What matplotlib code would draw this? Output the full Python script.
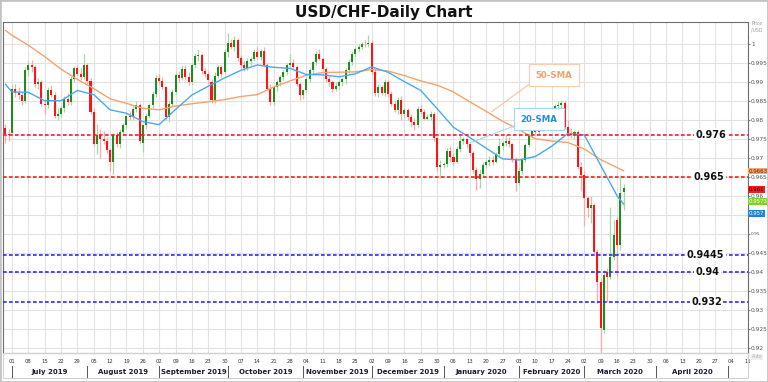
import matplotlib
matplotlib.use('Agg')
import matplotlib.pyplot as plt
import matplotlib.transforms as mtransforms
from matplotlib.patches import Rectangle
import numpy as np
import pandas as pd

# USD/CHF daily candles, 27 Jun 2019 - 18 Mar 2020
opens = [0.9778, 0.9763,
         0.9765, 0.9880, 0.9870, 0.9866, 0.9848,
         0.9932, 0.9943, 0.9940, 0.9893, 0.9898,
         0.9842, 0.9838, 0.9877, 0.9866, 0.9811,
         0.9815, 0.9830, 0.9855, 0.9846, 0.9908,
         0.9936, 0.9920, 0.9912, 0.9943, 0.9903,
         0.9820, 0.9737, 0.9759, 0.9750, 0.9745,
         0.9719, 0.9689, 0.9759, 0.9735, 0.9768,
         0.9785, 0.9811, 0.9808, 0.9829, 0.9838,
         0.9740, 0.9785, 0.9811, 0.9838, 0.9868,
         0.9910, 0.9903, 0.9885, 0.9807, 0.9842,
         0.9873, 0.9917, 0.9910, 0.9933, 0.9913,
         0.9899, 0.9943, 0.9968, 0.9971, 0.9928,
         0.9920, 0.9900, 0.9852, 0.9915, 0.9938,
         0.9925, 0.9978, 1.0003, 0.9992, 1.0010,
         0.9962, 0.9943, 0.9935, 0.9955, 0.9960,
         0.9978, 0.9965, 0.9980, 0.9945, 0.9882,
         0.9847, 0.9885, 0.9899, 0.9912, 0.9925,
         0.9945, 0.9950, 0.9940, 0.9895, 0.9864,
         0.9877, 0.9908, 0.9930, 0.9952, 0.9974,
         0.9960, 0.9934, 0.9908, 0.9899, 0.9882,
         0.9890, 0.9899, 0.9908, 0.9930, 0.9952,
         0.9974, 0.9987, 0.9991, 1.0000, 0.9998,
         1.0003, 0.9925, 0.9870, 0.9886, 0.9870,
         0.9898, 0.9868, 0.9842, 0.9826, 0.9851,
         0.9816, 0.9825, 0.9807, 0.9794, 0.9785,
         0.9829, 0.9821, 0.9803, 0.9808, 0.9816,
         0.9751, 0.9676, 0.9680, 0.9683, 0.9718,
         0.9702, 0.9690, 0.9722, 0.9743, 0.9748,
         0.9735, 0.9712, 0.9667, 0.9645, 0.9656,
         0.9682, 0.9688, 0.9695, 0.9690, 0.9710,
         0.9732, 0.9738, 0.9745, 0.9737, 0.9697,
         0.9634, 0.9665, 0.9694, 0.9733, 0.9760,
         0.9778, 0.9768, 0.9782, 0.9778, 0.9795,
         0.9805, 0.9824, 0.9836, 0.9840, 0.9843,
         0.9782, 0.9765, 0.9760, 0.9768, 0.9676,
         0.9654, 0.9593, 0.9567, 0.9576, 0.9453,
         0.9374, 0.9247, 0.9400, 0.9387, 0.9440,
         0.9536, 0.9470, 0.9610]
highs = [0.9790, 0.9775,
         0.9892, 0.9895, 0.9885, 0.9872, 0.9940,
         0.9955, 0.9958, 0.9945, 0.9910, 0.9905,
         0.9855, 0.9885, 0.9892, 0.9872, 0.9830,
         0.9838, 0.9862, 0.9870, 0.9915, 0.9942,
         0.9945, 0.9935, 0.9972, 0.9950, 0.9910,
         0.9830, 0.9790, 0.9775, 0.9770, 0.9755,
         0.9725, 0.9765, 0.9768, 0.9775, 0.9792,
         0.9818, 0.9822, 0.9835, 0.9850, 0.9845,
         0.9790, 0.9818, 0.9845, 0.9875, 0.9918,
         0.9920, 0.9912, 0.9890, 0.9850, 0.9880,
         0.9925, 0.9928, 0.9943, 0.9945, 0.9925,
         0.9950, 0.9975, 0.9987, 0.9975, 0.9935,
         0.9928, 0.9908, 0.9925, 0.9945, 0.9945,
         0.9985, 1.0027, 1.0012, 1.0020, 1.0015,
         0.9970, 0.9955, 0.9962, 0.9965, 0.9985,
         0.9990, 0.9985, 0.9990, 0.9950, 0.9895,
         0.9890, 0.9905, 0.9918, 0.9930, 0.9950,
         0.9974, 0.9960, 0.9945, 0.9900, 0.9880,
         0.9915, 0.9935, 0.9955, 0.9980, 0.9985,
         0.9965, 0.9940, 0.9915, 0.9905, 0.9898,
         0.9905, 0.9912, 0.9935, 0.9960, 0.9980,
         0.9992, 0.9998, 1.0005, 1.0010, 1.0022,
         1.0010, 0.9935, 0.9895, 0.9892, 0.9908,
         0.9905, 0.9875, 0.9850, 0.9860, 0.9862,
         0.9830, 0.9832, 0.9815, 0.9805, 0.9835,
         0.9838, 0.9828, 0.9815, 0.9822, 0.9820,
         0.9755, 0.9695, 0.9690, 0.9725, 0.9730,
         0.9712, 0.9730, 0.9760, 0.9755, 0.9752,
         0.9740, 0.9718, 0.9675, 0.9670, 0.9690,
         0.9695, 0.9705, 0.9705, 0.9715, 0.9752,
         0.9745, 0.9762, 0.9755, 0.9740, 0.9702,
         0.9672, 0.9700, 0.9740, 0.9765, 0.9785,
         0.9785, 0.9790, 0.9795, 0.9800, 0.9810,
         0.9828, 0.9842, 0.9848, 0.9852, 0.9848,
         0.9800, 0.9778, 0.9772, 0.9772, 0.9690,
         0.9665, 0.9598, 0.9598, 0.9582, 0.9460,
         0.9380, 0.9405, 0.9410, 0.9571, 0.9536,
         0.9545, 0.9654, 0.9632]
lows = [0.9740, 0.9745,
        0.9760, 0.9860, 0.9855, 0.9840, 0.9845,
        0.9915, 0.9925, 0.9885, 0.9880, 0.9835,
        0.9815, 0.9830, 0.9860, 0.9805, 0.9798,
        0.9808, 0.9820, 0.9840, 0.9840, 0.9900,
        0.9915, 0.9905, 0.9908, 0.9895, 0.9815,
        0.9730, 0.9710, 0.9700, 0.9735, 0.9712,
        0.9665, 0.9658, 0.9728, 0.9725, 0.9760,
        0.9778, 0.9800, 0.9800, 0.9820, 0.9735,
        0.9715, 0.9775, 0.9805, 0.9830, 0.9860,
        0.9895, 0.9880, 0.9800, 0.9795, 0.9835,
        0.9868, 0.9900, 0.9905, 0.9905, 0.9892,
        0.9892, 0.9935, 0.9955, 0.9920, 0.9912,
        0.9895, 0.9845, 0.9845, 0.9910, 0.9912,
        0.9920, 0.9965, 0.9985, 0.9980, 0.9955,
        0.9935, 0.9928, 0.9930, 0.9945, 0.9955,
        0.9960, 0.9958, 0.9940, 0.9878, 0.9838,
        0.9840, 0.9875, 0.9890, 0.9905, 0.9918,
        0.9938, 0.9935, 0.9890, 0.9852, 0.9855,
        0.9870, 0.9900, 0.9922, 0.9945, 0.9958,
        0.9930, 0.9900, 0.9890, 0.9872, 0.9875,
        0.9880, 0.9890, 0.9895, 0.9922, 0.9945,
        0.9965, 0.9978, 0.9985, 0.9990, 0.9990,
        0.9920, 0.9862, 0.9860, 0.9865, 0.9862,
        0.9860, 0.9835, 0.9820, 0.9815, 0.9800,
        0.9805, 0.9800, 0.9780, 0.9772, 0.9780,
        0.9815, 0.9798, 0.9798, 0.9800, 0.9745,
        0.9665, 0.9646, 0.9672, 0.9675, 0.9690,
        0.9680, 0.9685, 0.9715, 0.9735, 0.9725,
        0.9705, 0.9660, 0.9615, 0.9620, 0.9648,
        0.9672, 0.9678, 0.9680, 0.9685, 0.9705,
        0.9720, 0.9730, 0.9728, 0.9690, 0.9613,
        0.9628, 0.9658, 0.9688, 0.9728, 0.9752,
        0.9760, 0.9762, 0.9770, 0.9772, 0.9785,
        0.9800, 0.9815, 0.9830, 0.9832, 0.9775,
        0.9758, 0.9752, 0.9748, 0.9670, 0.9612,
        0.9520, 0.9545, 0.9528, 0.9448, 0.9317,
        0.9189, 0.9240, 0.9321, 0.9380, 0.9430,
        0.9390, 0.9457, 0.9562]
closes = [0.9763, 0.9760,
          0.9880, 0.9870, 0.9866, 0.9848, 0.9932,
          0.9943, 0.9940, 0.9893, 0.9898, 0.9842,
          0.9838, 0.9877, 0.9866, 0.9811, 0.9815,
          0.9830, 0.9855, 0.9846, 0.9908, 0.9936,
          0.9920, 0.9912, 0.9943, 0.9903, 0.9820,
          0.9737, 0.9759, 0.9750, 0.9745, 0.9719,
          0.9689, 0.9759, 0.9735, 0.9768, 0.9785,
          0.9811, 0.9808, 0.9829, 0.9838, 0.9745,
          0.9785, 0.9811, 0.9838, 0.9868, 0.9910,
          0.9903, 0.9885, 0.9807, 0.9842, 0.9873,
          0.9917, 0.9910, 0.9933, 0.9913, 0.9899,
          0.9943, 0.9968, 0.9971, 0.9928, 0.9920,
          0.9904, 0.9852, 0.9915, 0.9938, 0.9920,
          0.9978, 1.0003, 0.9992, 1.0010, 0.9962,
          0.9943, 0.9935, 0.9955, 0.9960, 0.9978,
          0.9965, 0.9980, 0.9945, 0.9882, 0.9847,
          0.9885, 0.9899, 0.9912, 0.9925, 0.9945,
          0.9950, 0.9940, 0.9895, 0.9864, 0.9877,
          0.9908, 0.9930, 0.9952, 0.9974, 0.9960,
          0.9934, 0.9908, 0.9899, 0.9882, 0.9890,
          0.9899, 0.9908, 0.9930, 0.9952, 0.9974,
          0.9987, 0.9991, 1.0000, 0.9998, 1.0003,
          0.9925, 0.9870, 0.9886, 0.9870, 0.9898,
          0.9868, 0.9842, 0.9826, 0.9851, 0.9816,
          0.9825, 0.9807, 0.9794, 0.9785, 0.9829,
          0.9821, 0.9803, 0.9808, 0.9816, 0.9751,
          0.9676, 0.9680, 0.9683, 0.9718, 0.9702,
          0.9690, 0.9722, 0.9743, 0.9748, 0.9735,
          0.9712, 0.9667, 0.9645, 0.9656, 0.9682,
          0.9688, 0.9695, 0.9690, 0.9710, 0.9732,
          0.9738, 0.9745, 0.9737, 0.9697, 0.9634,
          0.9665, 0.9694, 0.9733, 0.9760, 0.9778,
          0.9768, 0.9782, 0.9778, 0.9795, 0.9805,
          0.9824, 0.9836, 0.9840, 0.9843, 0.9782,
          0.9765, 0.9760, 0.9768, 0.9676, 0.9654,
          0.9593, 0.9567, 0.9576, 0.9453, 0.9374,
          0.9251, 0.9392, 0.9387, 0.9440, 0.9497,
          0.9470, 0.9606, 0.9619]

# moving averages read at first candle, every Monday, and last candle
sma20 = [0.9893, 0.9873, 0.9872, 0.9850, 0.9850, 0.9877, 0.9866, 0.9826,
         0.9817, 0.9795, 0.9787, 0.9827, 0.9865, 0.9888, 0.9910, 0.9930,
         0.9944, 0.9938, 0.9935, 0.9919, 0.9918, 0.9913, 0.9921, 0.9939,
         0.9925, 0.9900, 0.9877, 0.9829, 0.9780, 0.9753, 0.9725, 0.9697,
         0.9694, 0.9703, 0.9730, 0.9764, 0.9760, 0.9680, 0.9600, 0.9578]
sma50 = [1.0035, 1.0022, 0.9996, 0.9966, 0.9933, 0.9906, 0.9882, 0.9855,
         0.9843, 0.9830, 0.9826, 0.9836, 0.9842, 0.9847, 0.9853, 0.9861,
         0.9866, 0.9886, 0.9902, 0.9917, 0.9924, 0.9925, 0.9926, 0.9932,
         0.9928, 0.9916, 0.9902, 0.9891, 0.9873, 0.9847, 0.9822, 0.9796,
         0.9774, 0.9750, 0.9744, 0.9740, 0.9723, 0.9695, 0.9674, 0.9666]

red_levels = [0.976, 0.965]
blue_levels = [0.9445, 0.94, 0.932]
level_names = {0.976: '0.976', 0.965: '0.965', 0.9445: '0.9445', 0.94: '0.94', 0.932: '0.932'}

price_tags = [('0.9663', 0.9665, '#f5a46e', '#5a2a00'),
              ('0.961', 0.9616, '#ff1a1a', '#200000'),
              ('0.9573', 0.9584, '#7ed321', '#ffffff'),
              ('0.957', 0.9554, '#1a86d8', '#ffffff')]

dates = pd.bdate_range('2019-06-27', periods=228)
n = len(closes)
x = np.arange(n)
o = np.array(opens)
h = np.array(highs)
l = np.array(lows)
c = np.array(closes)

mondays = [i for i in range(len(dates)) if dates[i].weekday() == 0]
sma_x = [0] + [m for m in mondays if m < n] + [n - 1]

fig = plt.figure(figsize=(7.68, 3.82), dpi=100)
ax = fig.add_axes([3 / 768, 1 - 353 / 382, 745 / 768, 331 / 382])

# grid
for m in mondays:
    ax.axvline(m, color='#e2e2e2', lw=0.8, zorder=0)
yt = np.round(np.arange(0.92, 1.0001, 0.005), 3)
for v in yt:
    ax.axhline(v, color='#e2e2e2', lw=0.8, zorder=0)

# candles
up = c >= o
wick_col = np.where(up, '#a6d8a6', '#ffa8a8')
body_col = np.where(up, '#1e8c1e', '#ff1414')
ax.vlines(x, l, h, colors=wick_col, lw=0.9, zorder=2)
bottom = np.minimum(o, c)
height = np.maximum(np.abs(c - o), 0.00025)
ax.bar(x, height, bottom=bottom, width=0.62, color=body_col, lw=0, zorder=3)

# moving averages
ax.plot(sma_x, sma50, color='#f7a26b', lw=1.0, zorder=4)
ax.plot(sma_x, sma20, color='#48a9f0', lw=1.0, zorder=4)

# support / resistance lines
trans = mtransforms.blended_transform_factory(ax.transAxes, ax.transData)
label_right = {0.976: 0.9714, 0.965: 0.9680, 0.9445: 0.9680, 0.94: 0.9612, 0.932: 0.9648}
for lv in red_levels + blue_levels:
    col = '#ff1a1a' if lv in red_levels else '#2a2aff'
    ax.axhline(lv, color=col, lw=1.2, dashes=(2.2, 1.4), zorder=5)
    ax.text(label_right[lv], lv, level_names[lv], transform=trans, ha='right', va='center',
            fontsize=7, fontweight='bold', color='#111111', zorder=6,
            bbox=dict(boxstyle='square,pad=0.15', fc='white', ec='none'))

# SMA callouts
ax.annotate('50-SMA', xy=(148.7, 0.9821), xytext=(167.7, 0.99176), ha='center', va='center',
            fontsize=6.2, fontweight='bold', color='#f5a06a', zorder=7,
            bbox=dict(boxstyle='square,pad=0.75', fc='white', ec='#f9cdb0', lw=0.8),
            arrowprops=dict(arrowstyle='-', color='#f9c2a0', lw=0.8, shrinkA=0, shrinkB=0,
                            relpos=(0, 0)))
ax.annotate('20-SMA', xy=(142.0, 0.97387), xytext=(163.1, 0.98018), ha='center', va='center',
            fontsize=6.2, fontweight='bold', color='#1e8fd8', zorder=7,
            bbox=dict(boxstyle='square,pad=0.75', fc='white', ec='#a8d5f2', lw=0.8),
            arrowprops=dict(arrowstyle='-', color='#a8d5f2', lw=0.8, shrinkA=0, shrinkB=0,
                            relpos=(0, 0)))

ax.set_xlim(-0.76, 227.06)
ax.set_ylim(0.91861, 1.00571)

# price axis on the right (0.955 sits under the price tags, as in the original)
ax.yaxis.tick_right()
ax.set_yticks(yt)
ax.set_yticklabels(['' if abs(v - 0.955) < 1e-6 else f'{v:g}' for v in yt])
ax.tick_params(axis='y', labelsize=4.2, labelcolor='#555555', color='#888888', length=1.5, pad=0.6)
for lab in ax.get_yticklabels():
    if lab.get_text() == '0.95':
        lab.set_fontsize(3.2)
ax.set_xticks([])
for s in ax.spines.values():
    s.set_color('#6e6e6e')
    s.set_linewidth(0.8)

for txt, val, fc, tc in price_tags:
    ax.text(1.0015, val, txt, transform=trans, ha='left', va='center', fontsize=3.9, color=tc,
            zorder=8, clip_on=False,
            bbox=dict(boxstyle='square,pad=0.15', fc=fc, ec='none'))

# date axis
xtr = mtransforms.blended_transform_factory(ax.transData, ax.transAxes)
for m in mondays:
    ax.text(m, -0.027, dates[m].strftime('%d'), transform=xtr, ha='center', va='center',
            fontsize=3.8, color='#333333', clip_on=False)
month_starts = [i for i in range(1, len(dates)) if dates[i].month != dates[i - 1].month]
for a, b in zip(month_starts[:-1], month_starts[1:]):
    ax.text((a + b) / 2, -0.058, dates[a].strftime('%B %Y'), transform=xtr, ha='center',
            va='center', fontsize=5.0, fontweight='bold', color='#1a1a2e', clip_on=False)
for a in month_starts:
    ax.plot([a, a], [-0.040, -0.072], transform=xtr, color='#555555', lw=0.7, clip_on=False)

fig.text(0.5, 1 - 12 / 382, 'USD/CHF-Daily Chart', ha='center', va='center',
         fontsize=11, fontweight='bold', color='#111111')
fig.text(757 / 768, 1 - 27 / 382, 'Price\n/USD', ha='center', va='center', fontsize=3.3,
         color='#9a9a9a', linespacing=1.3)
fig.text(757 / 768, 1 - 357 / 382, 'Auto', ha='center', va='center', fontsize=3.3,
         color='#b0b0b0', bbox=dict(boxstyle='square,pad=0.2', fc='#eeeeee', ec='none'))

fig.add_artist(Rectangle((3 / 768, 4 / 382), 745 / 768, 25 / 382, transform=fig.transFigure,
                         fill=False, ec='#d0d0d0', lw=0.8))
fig.add_artist(Rectangle((0, 0), 1, 1, transform=fig.transFigure, fill=False,
                         ec='#c4c4c4', lw=2))

fig.savefig('out.png', dpi=100)
